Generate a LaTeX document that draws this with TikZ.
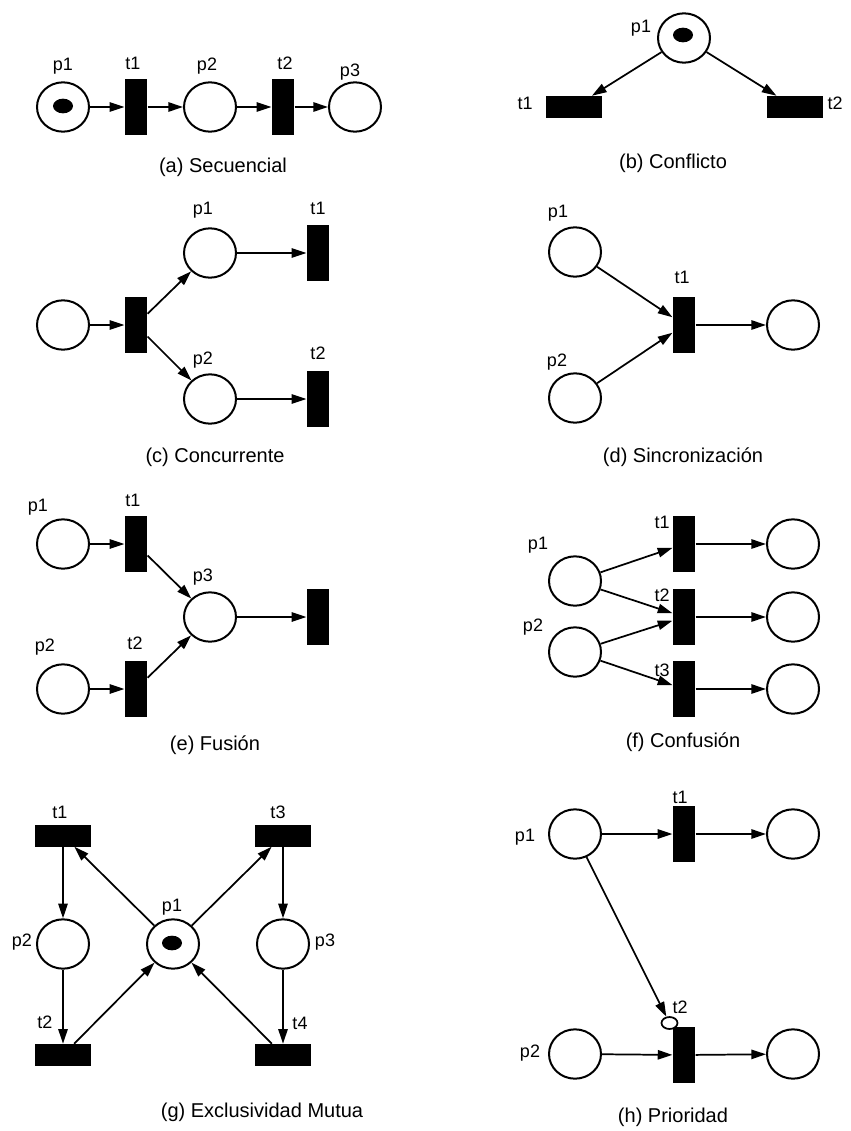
\documentclass[tikz,border=0pt]{standalone}
\usepackage{fontspec}
\setmainfont{Liberation Sans}
\usetikzlibrary{shapes.geometric,arrows.meta}
\begin{document}
\begin{tikzpicture}[x=0.75pt,y=-0.75pt,
 place/.style={draw,ellipse,line width=1.5pt,minimum width=39pt,minimum height=37pt,inner sep=0pt},
 token/.style={fill=black,ellipse,minimum width=15pt,minimum height=11pt,inner sep=0pt},
 vtrans/.style={fill=black,rectangle,minimum width=17pt,minimum height=42pt,inner sep=0pt},
 htrans/.style={fill=black,rectangle,minimum width=42pt,minimum height=16.5pt,inner sep=0pt},
 lbl/.style={font=\fontsize{13.5}{15}\selectfont,inner sep=0pt},
 captxt/.style={font=\fontsize{15}{17}\selectfont,inner sep=0pt},
 petriarc/.style={-{Triangle[length=11pt,width=7pt]},line width=1.3pt},
 inhib/.style={draw,fill=white,ellipse,line width=1.3pt,minimum width=12pt,minimum height=9pt,inner sep=0pt}
]
\useasboundingbox (0,0) rectangle (850,1131);

% (a) Secuencial
\node[place] (a1) at (63,107) {};
\node[token] (a1k) at (63,106) {};
\node[vtrans] (at1) at (136,107) {};
\node[place] (a2) at (210,107) {};
\node[vtrans] (at2) at (283,107) {};
\node[place] (a3) at (355,107) {};
\node[lbl] (a1l) at (63,66) {p1};
\node[lbl] (at1l) at (133,63) {t1};
\node[lbl] (a2l) at (207,66) {p2};
\node[lbl] (at2l) at (285,63) {t2};
\node[lbl] (a3l) at (350,72) {p3};
\node[captxt] (acap) at (223,167) {(a) Secuencial};
\draw[petriarc] (a1) -- (at1);
\draw[petriarc] (at1) -- (a2);
\draw[petriarc] (a2) -- (at2);
\draw[petriarc] (at2) -- (a3);

% (b) Conflicto
\node[place] (b1) at (684,38) {};
\node[token] (b1k) at (683,35) {};
\node[htrans] (bt1) at (574,107) {};
\node[htrans] (bt2) at (794.5,107) {};
\node[lbl] (b1l) at (641,28) {p1};
\node[lbl] (bt1l) at (525,103) {t1};
\node[lbl] (bt2l) at (835,103) {t2};
\node[captxt] (bcap) at (673,163) {(b) Conflicto};
\draw[petriarc] (b1) -- (bt1);
\draw[petriarc] (b1) -- (bt2);

% (c) Concurrente
\node[place] (c0) at (63,325) {};
\node[vtrans] (ct0) at (136,325) {};
\node[place] (c1) at (210,253) {};
\node[place] (c2) at (210,399) {};
\node[vtrans] (ct1) at (318,253) {};
\node[vtrans] (ct2) at (318,399) {};
\node[lbl] (c1l) at (203,210) {p1};
\node[lbl] (ct1l) at (318,208) {t1};
\node[lbl] (c2l) at (203,360) {p2};
\node[lbl] (ct2l) at (318,353) {t2};
\node[captxt] (ccap) at (215,457) {(c) Concurrente};
\draw[petriarc] (c0) -- (ct0);
\draw[petriarc] (ct0) -- (c1);
\draw[petriarc] (ct0) -- (c2);
\draw[petriarc] (c1) -- (ct1);
\draw[petriarc] (c2) -- (ct2);

% (d) Sincronizacion
\node[place] (d1) at (575,252) {};
\node[place] (d2) at (575,398) {};
\node[vtrans] (dt1) at (684,325) {};
\node[place] (d3) at (793,325) {};
\node[lbl] (d1l) at (558,213) {p1};
\node[lbl] (d2l) at (557,362) {p2};
\node[lbl] (dt1l) at (682,277) {t1};
\node[captxt] (dcap) at (683,457) {(d) Sincronización};
\draw[petriarc] (d1) -- (dt1);
\draw[petriarc] (d2) -- (dt1);
\draw[petriarc] (dt1) -- (d3);

% (e) Fusion
\node[place] (e1) at (63,544) {};
\node[vtrans] (et1) at (136,544) {};
\node[place] (e2) at (63,689) {};
\node[vtrans] (et2) at (136,689) {};
\node[place] (e3) at (210,617) {};
\node[vtrans] (et3) at (318,617) {};
\node[lbl] (e1l) at (38,507) {p1};
\node[lbl] (et1l) at (133,500) {t1};
\node[lbl] (e3l) at (203,577) {p3};
\node[lbl] (e2l) at (45,647) {p2};
\node[lbl] (et2l) at (135,643) {t2};
\node[captxt] (ecap) at (215,745) {(e) Fusión};
\draw[petriarc] (e1) -- (et1);
\draw[petriarc] (e2) -- (et2);
\draw[petriarc] (et1) -- (e3);
\draw[petriarc] (et2) -- (e3);
\draw[petriarc] (e3) -- (et3);

% (f) Confusion
\node[place] (f1) at (575,581) {};
\node[place] (f2) at (575,652) {};
\node[vtrans] (ft1) at (684,544) {};
\node[vtrans] (ft2) at (684,617) {};
\node[vtrans] (ft3) at (684,689) {};
\node[place] (f3) at (793,544) {};
\node[place] (f4) at (793,617) {};
\node[place] (f5) at (793,689) {};
\node[lbl] (f1l) at (538,545) {p1};
\node[lbl] (f2l) at (533,627) {p2};
\node[lbl] (ft1l) at (662,522) {t1};
\node[lbl] (ft2l) at (662,595) {t2};
\node[lbl] (ft3l) at (662,670) {t3};
\node[captxt] (fcap) at (683,742) {(f) Confusión};
\draw[petriarc] (f1) -- (ft1);
\draw[petriarc] (f1) -- (ft2);
\draw[petriarc] (f2) -- (ft2);
\draw[petriarc] (f2) -- (ft3);
\draw[petriarc] (ft1) -- (f3);
\draw[petriarc] (ft2) -- (f4);
\draw[petriarc] (ft3) -- (f5);

% (g) Exclusividad Mutua
\node[htrans] (gt1) at (63,835.5) {};
\node[htrans] (gt3) at (283,835.5) {};
\node[htrans] (gt2) at (63,1055) {};
\node[htrans] (gt4) at (283,1055) {};
\node[place] (g2) at (63,944) {};
\node[place] (g1) at (173,944) {};
\node[token] (g1k) at (172,943) {};
\node[place] (g3) at (283,944) {};
\node[lbl] (gt1l) at (60,812) {t1};
\node[lbl] (gt3l) at (278,812) {t3};
\node[lbl] (g1l) at (172,907) {p1};
\node[lbl] (g2l) at (22,942) {p2};
\node[lbl] (g3l) at (325,942) {p3};
\node[lbl] (gt2l) at (45,1022) {t2};
\node[lbl] (gt4l) at (300,1023) {t4};
\node[captxt] (gcap) at (262,1112) {(g) Exclusividad Mutua};
\draw[petriarc] (gt1) -- (g2);
\draw[petriarc] (g2) -- (gt2);
\draw[petriarc] (gt3) -- (g3);
\draw[petriarc] (g3) -- (gt4);
\draw[petriarc] (g1) -- (gt1);
\draw[petriarc] (g1) -- (gt3);
\draw[petriarc] (gt2) -- (g1);
\draw[petriarc] (gt4) -- (g1);

% (h) Prioridad
\node[place] (h1) at (575,834) {};
\node[vtrans] (ht1) at (684,834) {};
\node[place] (h3) at (793,834) {};
\node[place] (h2) at (575,1054) {};
\node[vtrans] (ht2) at (684,1055) {};
\node[place] (h4) at (793,1054) {};
\node[inhib] (hinh) at (669.5,1023) {};
\node[lbl] (h1l) at (525,837) {p1};
\node[lbl] (ht1l) at (680,797) {t1};
\node[lbl] (ht2l) at (680,1007) {t2};
\node[lbl] (h2l) at (530,1053) {p2};
\node[captxt] (hcap) at (673,1117) {(h) Prioridad};
\draw[petriarc] (h1) -- (ht1);
\draw[petriarc] (ht1) -- (h3);
\draw[petriarc] (h2) -- (ht2);
\draw[petriarc] (ht2) -- (h4);
\draw[petriarc] (h1) -- (hinh);
\end{tikzpicture}
\end{document}
